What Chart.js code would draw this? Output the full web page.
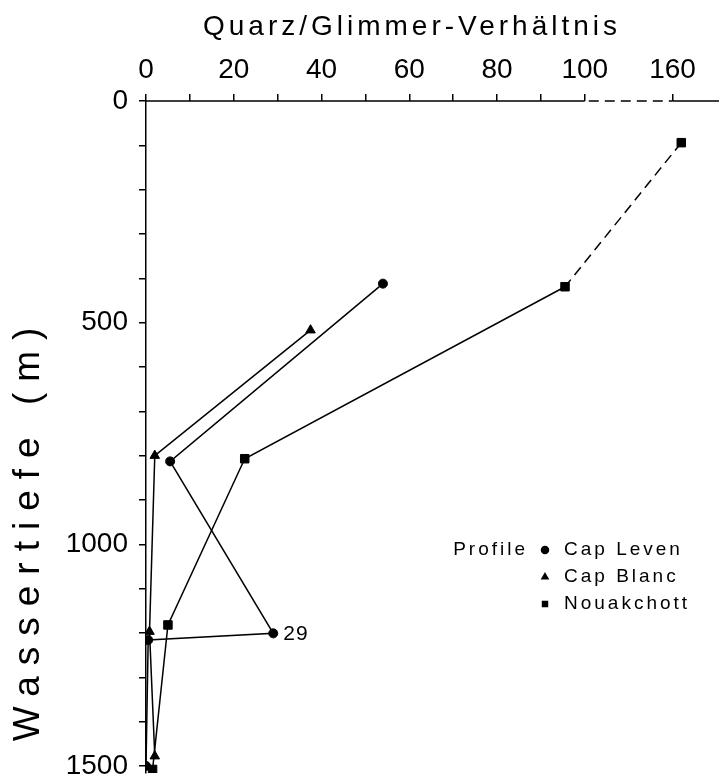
<!DOCTYPE html>
<html>
<head>
<meta charset="utf-8">
<script src="https://cdn.jsdelivr.net/npm/chart.js@4/dist/chart.umd.min.js"></script>
<style>
  html, body { margin: 0; padding: 0; background: #fff; }
</style>
</head>
<body>
<canvas id="chart" width="719" height="780"></canvas>
<script>
// values: x = Quarz/Glimmer ratio, y = water depth (m)
const capLevenRatio = [54, 5.5, 29, 0.5, 0];
const capLevenDepth = [412, 813, 1201, 1216, 1500];
const capBlancRatio = [37.5, 2, 0.8, 2];
const capBlancDepth = [517, 800, 1197, 1478];
const nouakchottRatio = [162, 95.5, 22.5, 5, 1.5];
const nouakchottDepth = [94, 419, 807, 1182, 1508];

const seriesNames = ['Cap Leven', 'Cap Blanc', 'Nouakchott'];
const ratioTicks = [0, 10, 20, 30, 40, 50, 60, 70, 80, 90, 100, 160];
const ratioLabels = [0, 20, 40, 60, 80, 100, 160];
const depthTicks = [0, 100, 200, 300, 400, 500, 600, 700, 800, 900, 1000, 1100, 1200, 1300, 1400, 1500];
const depthLabels = [0, 500, 1000, 1500];
const noteLabel = '29';

// the ratio axis is broken between 100 and 160
const GAP = 40;
const toAxis = v => v > 100 ? v - GAP : v;
const fromAxis = v => v > 100 ? v + GAP : v;

const FONT = '"Liberation Sans", Arial, sans-serif';

function pts(xs, ys) {
    return xs.map((x, i) => ({ x: toAxis(x), y: ys[i] }));
}

const decor = {
    id: 'decor',
    afterDraw(chart) {
        const ctx = chart.ctx;
        const area = chart.chartArea;
        const xs = chart.scales.x;
        const ys = chart.scales.y;
        const top = ys.getPixelForValue(0);

        // top axis line with dashed break
        ctx.save();
        ctx.strokeStyle = '#000';
        ctx.lineWidth = 1.5;
        ctx.beginPath();
        ctx.moveTo(xs.getPixelForValue(0), top);
        ctx.lineTo(xs.getPixelForValue(100), top);
        ctx.moveTo(xs.getPixelForValue(toAxis(160)), top);
        ctx.lineTo(719, top);
        ctx.stroke();
        ctx.setLineDash([10, 6]);
        ctx.beginPath();
        ctx.moveTo(xs.getPixelForValue(100) + 4, top);
        ctx.lineTo(xs.getPixelForValue(toAxis(160)), top);
        ctx.stroke();
        ctx.setLineDash([]);

        // axis titles
        ctx.fillStyle = '#000';
        ctx.font = '28px ' + FONT;
        ctx.letterSpacing = '4px';
        ctx.textAlign = 'center';
        ctx.textBaseline = 'middle';
        ctx.fillText('Quarz/Glimmer-Verhältnis', 412, 27);

        ctx.save();
        ctx.translate(29, 535);
        ctx.rotate(-Math.PI / 2);
        ctx.font = '37px ' + FONT;
        ctx.letterSpacing = '11px';
        ctx.fillText('Wassertiefe (m)', 6, 0);
        ctx.restore();

        // note beside the Cap Leven point
        const p = chart.getDatasetMeta(0).data[2];
        ctx.font = '21px ' + FONT;
        ctx.letterSpacing = '1px';
        ctx.textAlign = 'left';
        ctx.fillText(noteLabel, p.x + 10, p.y + 1);

        // legend
        ctx.font = '19px ' + FONT;
        ctx.letterSpacing = '3px';
        const rowY = [550, 577, 604];
        ctx.textAlign = 'right';
        ctx.fillText('Profile', 528, rowY[0]);
        ctx.textAlign = 'left';
        chart.data.datasets.forEach((ds, i) => {
            Chart.helpers.drawPoint(ctx, {
                pointStyle: ds.pointStyle, radius: 3.5, rotation: 0, borderWidth: 1
            }, 545, rowY[i]);
            ctx.fillText(ds.label, 564, rowY[i]);
        });
        ctx.restore();
    }
};

const common = {
    borderColor: '#000',
    backgroundColor: '#000',
    borderWidth: 1.5,
    showLine: true,
    tension: 0,
    pointBorderWidth: 1
};

new Chart(document.getElementById('chart'), {
    type: 'scatter',
    data: {
        datasets: [
            Object.assign({}, common, {
                label: seriesNames[0],
                data: pts(capLevenRatio, capLevenDepth),
                pointStyle: 'circle',
                pointRadius: 4.5
            }),
            Object.assign({}, common, {
                label: seriesNames[1],
                data: pts(capBlancRatio, capBlancDepth),
                pointStyle: 'triangle',
                pointRadius: 5.5
            }),
            Object.assign({}, common, {
                label: seriesNames[2],
                data: pts(nouakchottRatio, nouakchottDepth),
                pointStyle: 'rect',
                pointRadius: 6,
                segment: {
                    borderDash: c => c.p0DataIndex === 0 ? [10, 6] : undefined
                }
            })
        ]
    },
    options: {
        responsive: false,
        animation: false,
        devicePixelRatio: 1,
        layout: { padding: { top: 0, left: 0, right: 0, bottom: 0 } },
        plugins: {
            legend: { display: false },
            tooltip: { enabled: false }
        },
        scales: {
            x: {
                type: 'linear',
                position: 'top',
                min: 0,
                max: 129,
                afterBuildTicks: s => { s.ticks = ratioTicks.map(v => ({ value: toAxis(v) })); },
                afterFit: s => { s.height = 101; s.paddingLeft = 0; s.paddingRight = 0; },
                border: { display: false },
                grid: { drawOnChartArea: false, drawTicks: true, tickLength: 7, color: '#000', lineWidth: 1.5 },
                ticks: {
                    color: '#000',
                    font: { family: FONT, size: 28 },
                    padding: 7,
                    autoSkip: false,
                    maxRotation: 0,
                    callback: v => ratioLabels.includes(fromAxis(v)) ? String(fromAxis(v)) : ''
                }
            },
            y: {
                type: 'linear',
                reverse: true,
                min: 0,
                max: 1516,
                afterBuildTicks: s => { s.ticks = depthTicks.map(v => ({ value: v })); },
                afterFit: s => { s.width = 146; s.paddingTop = 0; s.paddingBottom = 0; },
                border: { display: true, color: '#000', width: 1.5 },
                grid: { drawOnChartArea: false, drawTicks: true, tickLength: 7, color: '#000', lineWidth: 1.5 },
                ticks: {
                    color: '#000',
                    font: { family: FONT, size: 28 },
                    padding: 11,
                    autoSkip: false,
                    callback: v => depthLabels.includes(v) ? String(v) : ''
                }
            }
        }
    },
    plugins: [decor]
});
</script>
</body>
</html>
